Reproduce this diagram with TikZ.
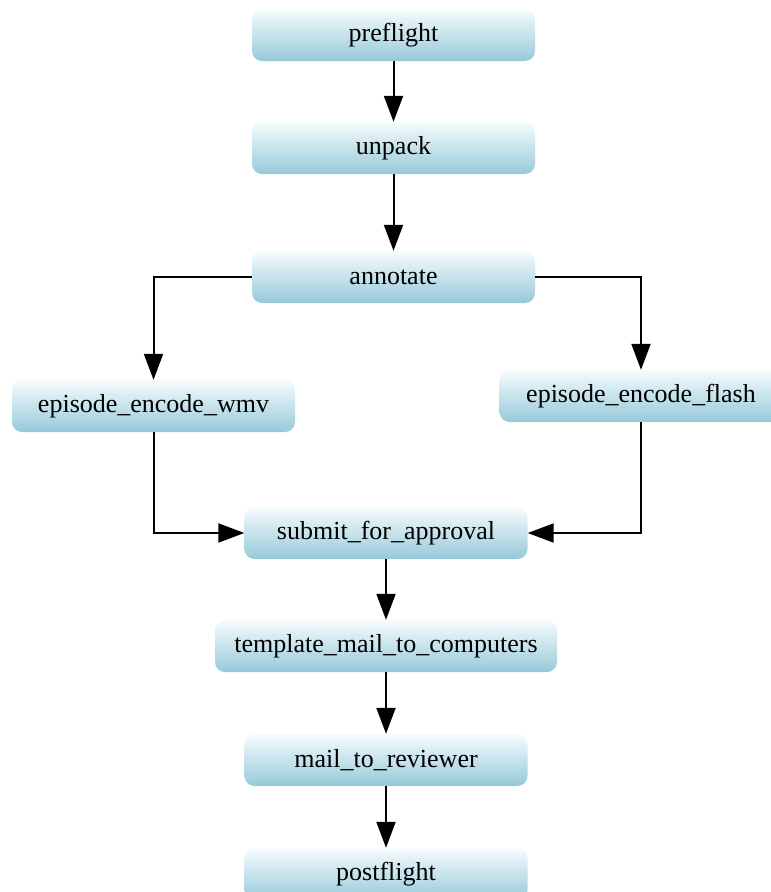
\documentclass[tikz,border=0pt]{standalone}
\usepackage{fontspec}
\setmainfont{Liberation Serif}
\usetikzlibrary{arrows.meta}
\definecolor{boxtop}{HTML}{F6FCFE}
\definecolor{boxbot}{HTML}{96C9D9}
\begin{document}
\begin{tikzpicture}[x=1pt,y=-1pt]
		\tikzset{step box/.style = {shape=rectangle, rounded corners=10pt, top color=boxtop, bottom color=boxbot,
				minimum width=283pt, minimum height=52pt, inner sep=0pt, font=\fontsize{26}{30}\selectfont},
			flow/.style = {line width=2pt, -{Triangle[length=26pt,width=19pt]}}}

		\useasboundingbox (0,0) rectangle (771,892);

		\node[step box] (preflight) at (393.5,35) {preflight};
		\node[step box] (unpack) at (393.5,148) {unpack};
		\node[step box] (annotate) at (393.5,277) {annotate};
		\node[step box] (wmv) at (153.5,406) {episode\_encode\_wmv};
		\node[step box] (flash) at (641,396) {episode\_encode\_flash};
		\node[step box] (submit) at (386,533) {submit\_for\_approval};
		\node[step box, minimum width=342pt] (template) at (386,646) {template\_mail\_to\_computers};
		\node[step box] (reviewer) at (386,760) {mail\_to\_reviewer};
		\node[step box] (postflight) at (386,874) {postflight};

		\draw[flow] (preflight)--(unpack);
		\draw[flow] (unpack)--(annotate);
		\draw[flow] (annotate.west) -| (wmv.north);
		\draw[flow] (annotate.east) -| (flash.north);
		\draw[flow] (wmv.south) |- (submit.west);
		\draw[flow] (flash.south) |- (submit.east);
		\draw[flow] (submit)--(template);
		\draw[flow] (template)--(reviewer);
		\draw[flow] (reviewer)--(postflight);

	\end{tikzpicture}
\end{document}
